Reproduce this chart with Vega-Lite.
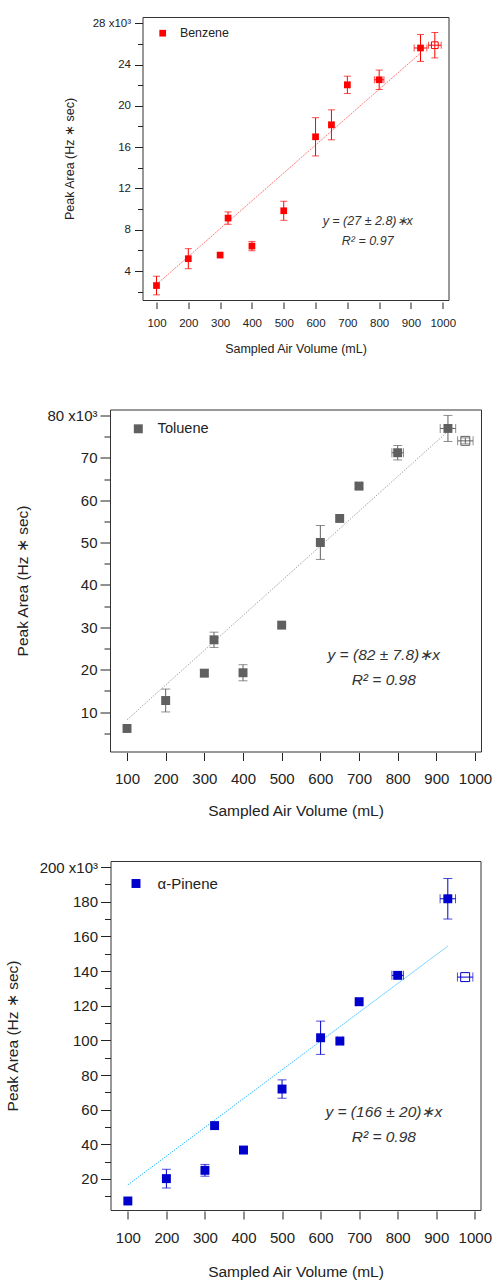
{
  "$schema": "https://vega.github.io/schema/vega-lite/v6.json",
  "padding": {"left": 4, "top": 16, "right": 4, "bottom": 4},
  "bounds": "flush",
  "center": true,
  "spacing": 109.5,
  "resolve": {"scale": {"color": "independent"}, "legend": {"color": "independent"}},
  "config": {
    "font": "Liberation Sans",
    "view": {"stroke": "#333333", "strokeWidth": 1},
    "axis": {"grid": false, "domain": false, "labelColor": "#222222", "titleColor": "#222222", "tickColor": "#222222", "tickWidth": 1, "titleFontWeight": "normal", "labelFlush": false, "labelOverlap": false, "labelBound": false},
    "legend": {"title": null}
  },
  "datasets": {
    "benzene": [
      {"compound": "Benzene", "vol": 100, "area": 2.6, "yerr": 0.9, "xerr": 0, "open": 0},
      {"compound": "Benzene", "vol": 200, "area": 5.2, "yerr": 0.97, "xerr": 0, "open": 0},
      {"compound": "Benzene", "vol": 300, "area": 5.55, "yerr": 0, "xerr": 0, "open": 0},
      {"compound": "Benzene", "vol": 325, "area": 9.13, "yerr": 0.6, "xerr": 0, "open": 0},
      {"compound": "Benzene", "vol": 400, "area": 6.42, "yerr": 0.45, "xerr": 0, "open": 0},
      {"compound": "Benzene", "vol": 500, "area": 9.84, "yerr": 0.92, "xerr": 0, "open": 0},
      {"compound": "Benzene", "vol": 600, "area": 17.0, "yerr": 1.85, "xerr": 0, "open": 0},
      {"compound": "Benzene", "vol": 650, "area": 18.16, "yerr": 1.45, "xerr": 7, "open": 0},
      {"compound": "Benzene", "vol": 700, "area": 22.03, "yerr": 0.84, "xerr": 7, "open": 0},
      {"compound": "Benzene", "vol": 800, "area": 22.52, "yerr": 0.94, "xerr": 15, "open": 0},
      {"compound": "Benzene", "vol": 930, "area": 25.6, "yerr": 1.3, "xerr": 20, "open": 0},
      {"compound": "Benzene", "vol": 975, "area": 25.87, "yerr": 1.23, "xerr": 20, "open": 1}
    ],
    "toluene": [
      {"compound": "Toluene", "vol": 100, "area": 6.15, "yerr": 0, "xerr": 0, "open": 0},
      {"compound": "Toluene", "vol": 200, "area": 12.75, "yerr": 2.7, "xerr": 0, "open": 0},
      {"compound": "Toluene", "vol": 300, "area": 19.2, "yerr": 0.8, "xerr": 0, "open": 0},
      {"compound": "Toluene", "vol": 325, "area": 27.07, "yerr": 1.8, "xerr": 0, "open": 0},
      {"compound": "Toluene", "vol": 400, "area": 19.3, "yerr": 1.9, "xerr": 0, "open": 0},
      {"compound": "Toluene", "vol": 500, "area": 30.53, "yerr": 0, "xerr": 0, "open": 0},
      {"compound": "Toluene", "vol": 600, "area": 50.03, "yerr": 4.0, "xerr": 0, "open": 0},
      {"compound": "Toluene", "vol": 650, "area": 55.7, "yerr": 0, "xerr": 7, "open": 0},
      {"compound": "Toluene", "vol": 700, "area": 63.33, "yerr": 0.5, "xerr": 7, "open": 0},
      {"compound": "Toluene", "vol": 800, "area": 71.2, "yerr": 1.7, "xerr": 15, "open": 0},
      {"compound": "Toluene", "vol": 930, "area": 76.93, "yerr": 3.07, "xerr": 20, "open": 0},
      {"compound": "Toluene", "vol": 975, "area": 74.0, "yerr": 0.7, "xerr": 20, "open": 1}
    ],
    "pinene": [
      {"compound": "α-Pinene", "vol": 100, "area": 7.3, "yerr": 0, "xerr": 0, "open": 0},
      {"compound": "α-Pinene", "vol": 200, "area": 20.2, "yerr": 5.4, "xerr": 0, "open": 0},
      {"compound": "α-Pinene", "vol": 300, "area": 25.0, "yerr": 3.4, "xerr": 0, "open": 0},
      {"compound": "α-Pinene", "vol": 325, "area": 50.8, "yerr": 0, "xerr": 0, "open": 0},
      {"compound": "α-Pinene", "vol": 400, "area": 36.7, "yerr": 0, "xerr": 0, "open": 0},
      {"compound": "α-Pinene", "vol": 500, "area": 71.9, "yerr": 5.3, "xerr": 0, "open": 0},
      {"compound": "α-Pinene", "vol": 600, "area": 101.5, "yerr": 9.6, "xerr": 0, "open": 0},
      {"compound": "α-Pinene", "vol": 650, "area": 99.6, "yerr": 0, "xerr": 7, "open": 0},
      {"compound": "α-Pinene", "vol": 700, "area": 122.3, "yerr": 0, "xerr": 7, "open": 0},
      {"compound": "α-Pinene", "vol": 800, "area": 137.5, "yerr": 0, "xerr": 15, "open": 0},
      {"compound": "α-Pinene", "vol": 930, "area": 181.7, "yerr": 11.7, "xerr": 20, "open": 0},
      {"compound": "α-Pinene", "vol": 975, "area": 136.5, "yerr": 0, "xerr": 20, "open": 1}
    ],
    "fit_benzene": [{"vol": 100, "area": 2.7}, {"vol": 930, "area": 25.11}],
    "fit_toluene": [{"vol": 100, "area": 8.2}, {"vol": 930, "area": 76.26}],
    "fit_pinene": [{"vol": 100, "area": 16.6}, {"vol": 930, "area": 154.38}],
    "ann_benzene": [{"vol": 764, "area": 8.83, "text": "y = (27 ± 2.8)∗x"}, {"vol": 764, "area": 6.9, "text": "R² = 0.97"}],
    "ann_toluene": [{"vol": 764, "area": 23.6, "text": "y = (82 ± 7.8)∗x"}, {"vol": 764, "area": 17.7, "text": "R² = 0.98"}],
    "ann_pinene": [{"vol": 764, "area": 58.8, "text": "y = (166 ± 20)∗x"}, {"vol": 764, "area": 44.4, "text": "R² = 0.98"}]
  },
  "vconcat": [
    {
      "width": 306,
      "height": 283,
      "encoding": {
        "x": {"field": "vol", "type": "quantitative", "scale": {"domain": [56, 1018], "nice": false, "zero": false},
          "axis": {"title": "Sampled Air Volume (mL)", "format": "d", "values": [100, 200, 300, 400, 500, 600, 700, 800, 900, 1000], "tickSize": 6.5, "offset": 2, "labelFontSize": 11.5, "labelPadding": 9, "titleFontSize": 12.5, "titleBaseline": "middle", "titleY": 46.7}},
        "y": {"field": "area", "type": "quantitative", "scale": {"domain": [1.2, 28.6], "nice": false, "zero": false},
          "axis": {"title": "Peak Area (Hz ∗ sec)", "values": [2, 4, 6, 8, 10, 12, 14, 16, 18, 20, 22, 24, 26, 28], "labelExpr": "datum.value % 4 === 0 ? (datum.value === 28 ? '28 x10³' : datum.label) : ''", "tickSize": {"condition": {"test": "datum.value % 4 === 0", "value": 8}, "value": 5}, "labelPadding": 4, "labelFontSize": 11.5, "titleFontSize": 12.5, "titleBaseline": "middle", "titleX": -72.8}}
      },
      "layer": [
        {"data": {"name": "fit_benzene"}, "mark": {"type": "line", "color": "#ff7a7a", "strokeWidth": 1, "strokeDash": [2, 1]}},
        {"data": {"name": "benzene"}, "transform": [{"filter": "datum.yerr > 0"}], "mark": {"type": "errorbar", "color": "#ff0000", "thickness": 1, "ticks": {"size": 7}}, "encoding": {"yError": {"field": "yerr"}}},
        {"data": {"name": "benzene"}, "transform": [{"filter": "datum.xerr > 0"}], "mark": {"type": "errorbar", "color": "#ff0000", "thickness": 1, "ticks": {"size": 7}}, "encoding": {"xError": {"field": "xerr"}}},
        {"data": {"name": "benzene"}, "transform": [{"filter": "datum.open === 0"}], "mark": {"type": "point", "shape": "square", "filled": true, "size": 45, "opacity": 1},
          "encoding": {"color": {"field": "compound", "type": "nominal", "scale": {"range": ["#ff0000"]}, "legend": {"orient": "none", "legendX": 14, "legendY": 10, "padding": 0, "symbolType": "square", "symbolSize": 45, "symbolOpacity": 1, "labelFontSize": 12.4, "labelOffset": 11, "labelColor": "#222222"}}}},
        {"data": {"name": "benzene"}, "transform": [{"filter": "datum.open === 1"}], "mark": {"type": "point", "shape": "square", "filled": false, "size": 45, "color": "#ff0000", "strokeWidth": 1, "opacity": 1}},
        {"data": {"name": "ann_benzene"}, "mark": {"type": "text", "fontStyle": "italic", "fontSize": 12.5, "color": "#333333"}, "encoding": {"text": {"field": "text"}}}
      ]
    },
    {
      "width": 371,
      "height": 342,
      "encoding": {
        "x": {"field": "vol", "type": "quantitative", "scale": {"domain": [56, 1015.5], "nice": false, "zero": false},
          "axis": {"title": "Sampled Air Volume (mL)", "format": "d", "values": [100, 200, 300, 400, 500, 600, 700, 800, 900, 1000], "tickSize": 8, "offset": 1, "labelFontSize": 15, "labelPadding": 11, "titleFontSize": 15.5, "titleBaseline": "middle", "titleY": 57.7}},
        "y": {"field": "area", "type": "quantitative", "scale": {"domain": [0.72, 81.4], "nice": false, "zero": false},
          "axis": {"title": "Peak Area (Hz ∗ sec)", "values": [5, 10, 15, 20, 25, 30, 35, 40, 45, 50, 55, 60, 65, 70, 75, 80], "labelExpr": "datum.value % 10 === 0 ? (datum.value === 80 ? '80 x10³' : datum.label) : ''", "tickSize": {"condition": {"test": "datum.value % 10 === 0", "value": 10}, "value": 6}, "labelPadding": 3, "labelFontSize": 15, "titleFontSize": 15.5, "titleBaseline": "middle", "titleX": -87.5}}
      },
      "layer": [
        {"data": {"name": "fit_toluene"}, "mark": {"type": "line", "color": "#8a8a8a", "strokeWidth": 1, "strokeDash": [1, 1.5]}},
        {"data": {"name": "toluene"}, "transform": [{"filter": "datum.yerr > 0"}], "mark": {"type": "errorbar", "color": "#606060", "thickness": 1, "ticks": {"size": 9}}, "encoding": {"yError": {"field": "yerr"}}},
        {"data": {"name": "toluene"}, "transform": [{"filter": "datum.xerr > 0"}], "mark": {"type": "errorbar", "color": "#606060", "thickness": 1, "ticks": {"size": 9}}, "encoding": {"xError": {"field": "xerr"}}},
        {"data": {"name": "toluene"}, "transform": [{"filter": "datum.open === 0"}], "mark": {"type": "point", "shape": "square", "filled": true, "size": 80, "opacity": 1},
          "encoding": {"color": {"field": "compound", "type": "nominal", "scale": {"range": ["#606060"]}, "legend": {"orient": "none", "legendX": 21, "legendY": 12, "padding": 0, "symbolType": "square", "symbolSize": 80, "symbolOpacity": 1, "labelFontSize": 14.6, "labelOffset": 12, "labelColor": "#222222"}}}},
        {"data": {"name": "toluene"}, "transform": [{"filter": "datum.open === 1"}], "mark": {"type": "point", "shape": "square", "filled": false, "size": 80, "color": "#606060", "strokeWidth": 1, "opacity": 1}},
        {"data": {"name": "ann_toluene"}, "mark": {"type": "text", "fontStyle": "italic", "fontSize": 15.5, "color": "#333333"}, "encoding": {"text": {"field": "text"}}}
      ]
    },
    {
      "width": 370,
      "height": 349,
      "encoding": {
        "x": {"field": "vol", "type": "quantitative", "scale": {"domain": [55, 1014.8], "nice": false, "zero": false},
          "axis": {"title": "Sampled Air Volume (mL)", "format": "d", "values": [100, 200, 300, 400, 500, 600, 700, 800, 900, 1000], "tickSize": 8, "offset": 1, "labelFontSize": 15, "labelPadding": 11, "titleFontSize": 15.5, "titleBaseline": "middle", "titleY": 60}},
        "y": {"field": "area", "type": "quantitative", "scale": {"domain": [2.1, 203.5], "nice": false, "zero": false},
          "axis": {"title": "Peak Area (Hz ∗ sec)", "values": [10, 20, 30, 40, 50, 60, 70, 80, 90, 100, 110, 120, 130, 140, 150, 160, 170, 180, 190, 200], "labelExpr": "datum.value % 20 === 0 ? (datum.value === 200 ? '200 x10³' : datum.label) : ''", "tickSize": {"condition": {"test": "datum.value % 20 === 0", "value": 10}, "value": 6}, "labelPadding": 3, "labelFontSize": 15, "titleFontSize": 15.5, "titleBaseline": "middle", "titleX": -98.5}}
      },
      "layer": [
        {"data": {"name": "fit_pinene"}, "mark": {"type": "line", "color": "#33bbff", "strokeWidth": 1, "strokeDash": [1.5, 1]}},
        {"data": {"name": "pinene"}, "transform": [{"filter": "datum.yerr > 0"}], "mark": {"type": "errorbar", "color": "#0000cc", "thickness": 1, "ticks": {"size": 9}}, "encoding": {"yError": {"field": "yerr"}}},
        {"data": {"name": "pinene"}, "transform": [{"filter": "datum.xerr > 0"}], "mark": {"type": "errorbar", "color": "#0000cc", "thickness": 1, "ticks": {"size": 9}}, "encoding": {"xError": {"field": "xerr"}}},
        {"data": {"name": "pinene"}, "transform": [{"filter": "datum.open === 0"}], "mark": {"type": "point", "shape": "square", "filled": true, "size": 80, "opacity": 1},
          "encoding": {"color": {"field": "compound", "type": "nominal", "scale": {"range": ["#0000cc"]}, "legend": {"orient": "none", "legendX": 18, "legendY": 15, "padding": 0, "symbolType": "square", "symbolSize": 80, "symbolOpacity": 1, "labelFontSize": 15, "labelOffset": 14, "labelColor": "#222222"}}}},
        {"data": {"name": "pinene"}, "transform": [{"filter": "datum.open === 1"}], "mark": {"type": "point", "shape": "square", "filled": false, "size": 80, "color": "#0000cc", "strokeWidth": 1, "opacity": 1}},
        {"data": {"name": "ann_pinene"}, "mark": {"type": "text", "fontStyle": "italic", "fontSize": 15.5, "color": "#333333"}, "encoding": {"text": {"field": "text"}}}
      ]
    }
  ]
}
